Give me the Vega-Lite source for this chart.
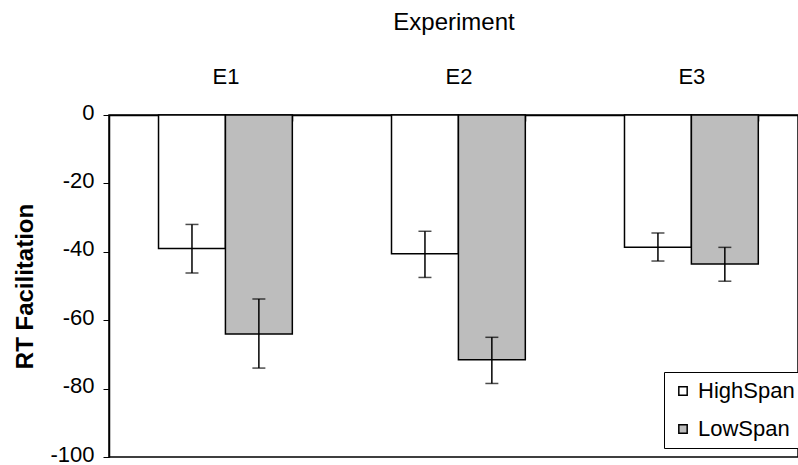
{
  "$schema": "https://vega.github.io/schema/vega-lite/v6.json",
  "autosize": {"type": "none"},
  "padding": {"left": 109, "top": 115, "right": 0, "bottom": 8},
  "width": 689,
  "height": 342,
  "background": "white",
  "config": {
    "font": "Liberation Sans",
    "view": {"stroke": "black", "strokeWidth": 1.5},
    "axis": {"labelColor": "black", "titleColor": "black", "domainColor": "black", "tickColor": "black", "grid": false}
  },
  "data": {
    "values": [
      {"Experiment": "E1", "Group": "HighSpan", "RT": -39.0, "lo": -46.2, "hi": -32.0},
      {"Experiment": "E1", "Group": "LowSpan", "RT": -64.0, "lo": -74.0, "hi": -53.8},
      {"Experiment": "E2", "Group": "HighSpan", "RT": -40.6, "lo": -47.5, "hi": -34.0},
      {"Experiment": "E2", "Group": "LowSpan", "RT": -71.6, "lo": -78.5, "hi": -65.0},
      {"Experiment": "E3", "Group": "HighSpan", "RT": -38.7, "lo": -42.7, "hi": -34.5},
      {"Experiment": "E3", "Group": "LowSpan", "RT": -43.6, "lo": -48.6, "hi": -38.7}
    ]
  },
  "encoding": {
    "x": {
      "field": "Experiment",
      "type": "nominal",
      "scale": {"paddingInner": 0.4257, "paddingOuter": 0.1915, "align": 0.555},
      "axis": {
        "orient": "top",
        "title": "Experiment",
        "titleFontSize": 24,
        "titleFontWeight": "normal",
        "titlePadding": 31,
        "labelFontSize": 22,
        "labelAngle": 0,
        "labelPadding": 33,
        "tickBand": "extent",
        "tickSize": -6,
        "tickWidth": 1.5,
        "domainWidth": 1.5
      }
    },
    "xOffset": {"field": "Group", "type": "nominal", "scale": {"paddingInner": 0, "paddingOuter": 0}}
  },
  "layer": [
    {
      "mark": {"type": "bar", "stroke": "black", "strokeWidth": 1.5},
      "encoding": {
        "y": {
          "field": "RT",
          "type": "quantitative",
          "scale": {"domain": [-100, 0], "nice": false},
          "axis": {
            "title": "RT Facilitation",
            "titleFontSize": 24,
            "titleFontWeight": "bold",
            "titlePadding": 12,
            "labelFontSize": 22,
            "labelPadding": 9,
            "labelOffset": -3,
            "labelExpr": "toString(datum.value)",
            "tickSize": 6,
            "values": [0, -20, -40, -60, -80, -100],
            "domainWidth": 1.5
          }
        },
        "fill": {
          "field": "Group",
          "type": "nominal",
          "scale": {"domain": ["HighSpan", "LowSpan"], "range": ["white", "#bdbdbd"]},
          "legend": {
            "title": null,
            "orient": "none",
            "legendX": 555,
            "legendY": 257,
            "fillColor": "white",
            "strokeColor": "black",
            "padding": 8,
            "labelFontSize": 22,
            "labelColor": "black",
            "labelOffset": 4,
            "symbolType": "square",
            "symbolSize": 70,
            "symbolStrokeColor": "black",
            "symbolStrokeWidth": 1.5,
            "rowPadding": 16
          }
        }
      }
    },
    {
      "mark": {"type": "rule", "color": "black", "strokeWidth": 1.5},
      "encoding": {
        "y": {"field": "lo", "type": "quantitative"},
        "y2": {"field": "hi"}
      }
    },
    {
      "mark": {"type": "tick", "color": "black", "size": 13, "thickness": 1.5},
      "encoding": {"y": {"field": "lo", "type": "quantitative"}}
    },
    {
      "mark": {"type": "tick", "color": "black", "size": 13, "thickness": 1.5},
      "encoding": {"y": {"field": "hi", "type": "quantitative"}}
    }
  ]
}
